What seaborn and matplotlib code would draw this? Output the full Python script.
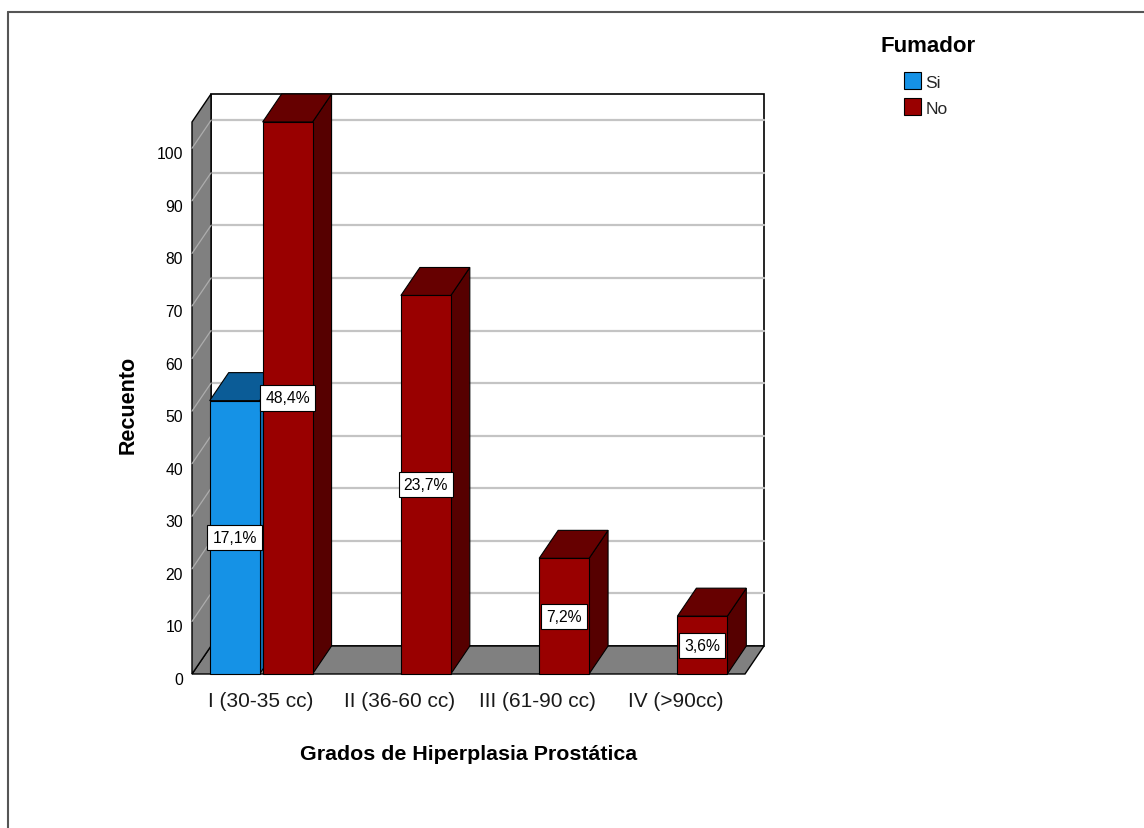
import matplotlib
matplotlib.use("Agg")
import matplotlib.pyplot as plt
import matplotlib.transforms as mtransforms
from matplotlib import font_manager
from matplotlib.colors import to_hex
from matplotlib.lines import Line2D
from matplotlib.patches import Polygon, Patch, Rectangle
import pandas as pd
import seaborn as sns

# ---- data -------------------------------------------------------------
categories = ["I (30-35 cc)", "II (36-60 cc)", "III (61-90 cc)", "IV (>90cc)"]
hue_levels = ["Si", "No"]
bar_grado = ["I (30-35 cc)", "I (30-35 cc)", "II (36-60 cc)", "III (61-90 cc)", "IV (>90cc)"]
bar_fumador = ["Si", "No", "No", "No", "No"]
bar_recuento = [52, 105, 72, 22, 11]
bar_porcentaje = ["17,1%", "48,4%", "23,7%", "7,2%", "3,6%"]
y_ticks = [0, 10, 20, 30, 40, 50, 60, 70, 80, 90, 100]
y_max = 105

# front / top / side shades of each series
colors = {
    "Si": ("#1592E6", "#0B5C97", "#0F6DB2"),
    "No": ("#990000", "#660000", "#560000"),
}

sns.set_theme(style="white")
installed = {f.name for f in font_manager.fontManager.ttflist}
REG = "Liberation Sans"
plt.rcParams["font.family"] = [REG, "DejaVu Sans"]
if "Liberation Sans Narrow" in installed:
    small_font = {"family": ["Liberation Sans Narrow", "DejaVu Sans"], "size": 13}
    legend_size = 14
else:
    small_font = {"family": [REG, "DejaVu Sans"], "size": 11.3}
    legend_size = 12.5

df = pd.DataFrame({"grado": bar_grado, "fumador": bar_fumador, "recuento": bar_recuento})

W, H = 1144, 829
fig = plt.figure(figsize=(W / 100, H / 100), dpi=100)
fig.patch.set_facecolor("white")

# front plane of the 3D box, in pixels
left, right, top, bottom = 192, 745, 123, 675
ax = fig.add_axes([left / W, 1 - bottom / H, (right - left) / W, (bottom - top) / H])

sns.barplot(
    data=df, x="grado", y="recuento", hue="fumador",
    order=categories, hue_order=hue_levels,
    palette={k: v[0] for k, v in colors.items()}, saturation=1,
    width=0.766, gap=0.057, errorbar=None,
    edgecolor="black", linewidth=0.8, legend=False, ax=ax,
)
x0, x1 = -0.5, len(categories) - 0.5
ax.set_xlim(x0, x1)
ax.set_ylim(0, y_max)
ax.patch.set_visible(False)
for s in ax.spines.values():
    s.set_visible(False)
ax.grid(False)

# depth of the box (pixels) converted to data units
DEPTH_PX = (19, 28)
inv = ax.transData.inverted()
p0 = ax.transData.transform((0, 0))
ddx, ddy = inv.transform((p0[0] + DEPTH_PX[0], p0[1] + DEPTH_PX[1])) - inv.transform(p0)

# back wall
ax.add_patch(Polygon([(x0 + ddx, ddy), (x1 + ddx, ddy), (x1 + ddx, y_max + ddy), (x0 + ddx, y_max + ddy)],
                     closed=True, fc="white", ec="black", lw=1.2, zorder=0, clip_on=False))
for v in y_ticks[1:]:
    ax.plot([x0 + ddx, x1 + ddx], [v + ddy, v + ddy], color="#C4C4C4", lw=1.6, zorder=1, clip_on=False)
# floor and left wall
ax.add_patch(Polygon([(x0, 0), (x1, 0), (x1 + ddx, ddy), (x0 + ddx, ddy)],
                     closed=True, fc="#808080", ec="black", lw=1.0, zorder=2, clip_on=False))
ax.add_patch(Polygon([(x0, 0), (x0 + ddx, ddy), (x0 + ddx, y_max + ddy), (x0, y_max)],
                     closed=True, fc="#808080", ec="black", lw=1.0, zorder=2, clip_on=False))
for v in y_ticks[1:]:
    ax.plot([x0, x0 + ddx], [v, v + ddy], color="#ADADAD", lw=0.9, zorder=3, clip_on=False)

# extrude each bar, painting from left to right
hex_to_hue = {to_hex(v[0]).lower(): k for k, v in colors.items()}
bars = sorted([p for p in ax.patches if isinstance(p, Rectangle) and p.get_height() > 0],
              key=lambda p: p.get_x())
bars = [p for p in bars if to_hex(p.get_facecolor()).lower() in hex_to_hue]
for i, p in enumerate(bars):
    x, w, h = p.get_x(), p.get_width(), p.get_height()
    hue = hex_to_hue[to_hex(p.get_facecolor()).lower()]
    _, c_top, c_side = colors[hue]
    base = 10 + 3 * i
    ax.add_patch(Polygon([(x + w, 0), (x + w + ddx, ddy), (x + w + ddx, h + ddy), (x + w, h)],
                         closed=True, fc=c_side, ec="black", lw=0.8, zorder=base, clip_on=False))
    ax.add_patch(Polygon([(x, h), (x + w, h), (x + w + ddx, h + ddy), (x + ddx, h + ddy)],
                         closed=True, fc=c_top, ec="black", lw=0.8, zorder=base + 1, clip_on=False))
    p.set_zorder(base + 2)
    p.set_clip_on(False)
    cat = categories[int(round(x + w / 2))]
    for g, f, pct in zip(bar_grado, bar_fumador, bar_porcentaje):
        if g == cat and f == hue:
            ax.text(x + w / 2, h / 2, pct, ha="center", va="center", zorder=200,
                    color="black", fontdict=small_font,
                    bbox=dict(boxstyle="square,pad=0.32", fc="white", ec="black", lw=0.8))

# axes text
ax.set_yticks(y_ticks)
ax.set_yticklabels([str(v) for v in y_ticks], fontdict=small_font)
ax.tick_params(axis="y", length=0, pad=6.5, colors="black")
shift = mtransforms.ScaledTranslation(0, -4 / 100, fig.dpi_scale_trans)
for lab in ax.get_yticklabels():
    lab.set_transform(lab.get_transform() + shift)
ax.tick_params(axis="x", length=0, pad=12, labelsize=15, colors="#1a1a1a")

ax.set_xlabel("Grados de Hiperplasia Prostática", fontsize=15.4, fontweight="bold", color="black")
ax.xaxis.set_label_coords(0.5, (bottom - 755) / (bottom - top))
ax.xaxis.label.set_va("center")
ax.set_ylabel("Recuento", fontsize=15.5, fontweight="bold", color="black")
ax.yaxis.set_label_coords((128 - left) / (right - left), (bottom - 405) / (bottom - top))
ax.yaxis.label.set_va("center")

# legend
fig.text(880 / W, 1 - 46 / H, "Fumador", fontsize=16, fontweight="bold", ha="left", va="center",
         color="black")
handles = [Patch(fc=colors[k][0], ec="black", lw=0.8) for k in hue_levels]
fs_px = legend_size * 100 / 72
fig.legend(handles, hue_levels, loc="upper left", bbox_to_anchor=(904 / W, 1 - 73 / H),
           frameon=False, handlelength=17 / fs_px, handleheight=20 / fs_px,
           handletextpad=0.25, labelspacing=0.5, borderpad=0, borderaxespad=0,
           prop={"family": small_font["family"], "size": legend_size})

# outer frame
fig.add_artist(Line2D([7.5 / W, 1], [1 - 12.5 / H, 1 - 12.5 / H], transform=fig.transFigure,
                      color="#555555", lw=1.5))
fig.add_artist(Line2D([7.5 / W, 7.5 / W], [0, 1 - 12.5 / H], transform=fig.transFigure,
                      color="#555555", lw=1.5))

fig.savefig("out.png", dpi=100)
